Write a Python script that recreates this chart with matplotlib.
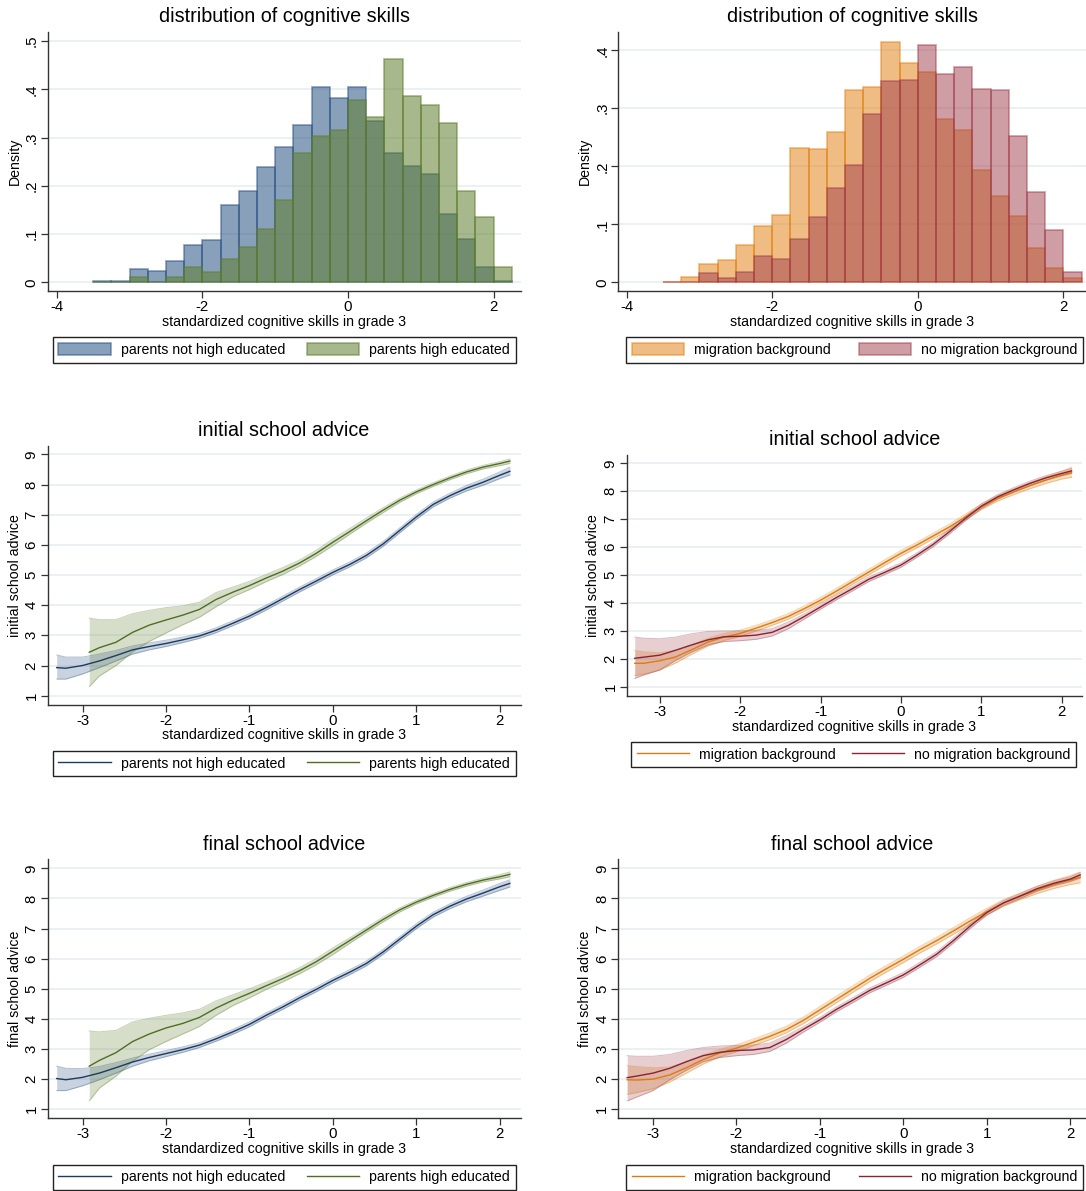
import numpy as np
import matplotlib.pyplot as plt
from matplotlib.ticker import FuncFormatter

plt.rcParams['font.family'] = ['Liberation Sans', 'DejaVu Sans']
plt.rcParams['axes.unicode_minus'] = False

##########################################################################
# histogram data (bin width 0.25, left edges from -3.5)
bin_left = np.arange(-3.5, 2.0001, 0.25)
dens_not_high = [0.002, 0.003, 0.027, 0.024, 0.045, 0.077, 0.087, 0.161, 0.189, 0.238, 0.280, 0.325,
                 0.404, 0.381, 0.405, 0.334, 0.267, 0.240, 0.225, 0.141, 0.089, 0.031, 0.003]
dens_high = [0.000, 0.001, 0.010, 0.001, 0.010, 0.032, 0.022, 0.048, 0.073, 0.110, 0.170, 0.267,
             0.303, 0.315, 0.377, 0.342, 0.463, 0.385, 0.368, 0.331, 0.190, 0.136, 0.031]
dens_migr = [0.001, 0.009, 0.032, 0.038, 0.064, 0.097, 0.116, 0.232, 0.229, 0.259, 0.331, 0.337,
             0.415, 0.378, 0.362, 0.281, 0.262, 0.194, 0.148, 0.114, 0.059, 0.024, 0.008]
dens_no_migr = [0.001, 0.001, 0.016, 0.007, 0.018, 0.046, 0.041, 0.074, 0.112, 0.162, 0.202, 0.290,
                0.347, 0.348, 0.409, 0.359, 0.372, 0.334, 0.332, 0.253, 0.155, 0.090, 0.017]

##########################################################################
# smoothed school advice with confidence bands
x_grid = [-3.31, -3.2, -3.0, -2.8, -2.6, -2.4, -2.2, -2.0, -1.8, -1.6, -1.4, -1.2, -1.0, -0.8, -0.6,
          -0.4, -0.2, 0.0, 0.2, 0.4, 0.6, 0.8, 1.0, 1.2, 1.4, 1.6, 1.8, 2.0, 2.12]
x_high = [-2.92, -2.8, -2.6, -2.4, -2.2, -2.0, -1.8, -1.6, -1.4, -1.2, -1.0, -0.8, -0.6, -0.4, -0.2,
          0.0, 0.2, 0.4, 0.6, 0.8, 1.0, 1.2, 1.4, 1.6, 1.8, 2.0, 2.12]

# initial advice, parents not high educated
init_nh = [1.93, 1.91, 2.00, 2.15, 2.33, 2.52, 2.63, 2.73, 2.85, 2.98, 3.17, 3.40, 3.64, 3.92, 4.22,
           4.52, 4.80, 5.09, 5.35, 5.65, 6.03, 6.48, 6.93, 7.34, 7.63, 7.88, 8.08, 8.31, 8.44]
init_nh_lo = [1.55, 1.55, 1.72, 1.93, 2.15, 2.38, 2.52, 2.63, 2.76, 2.90, 3.09, 3.32, 3.56, 3.84, 4.14,
              4.44, 4.72, 5.01, 5.27, 5.57, 5.95, 6.40, 6.85, 7.26, 7.55, 7.79, 7.98, 8.20, 8.32]
init_nh_hi = [2.35, 2.28, 2.28, 2.38, 2.50, 2.65, 2.75, 2.84, 2.94, 3.06, 3.25, 3.48, 3.72, 4.00, 4.30,
              4.60, 4.88, 5.17, 5.43, 5.73, 6.11, 6.56, 7.01, 7.42, 7.71, 7.97, 8.18, 8.42, 8.58]
# initial advice, parents high educated
init_h = [2.44, 2.59, 2.77, 3.10, 3.34, 3.51, 3.67, 3.86, 4.19, 4.43, 4.65, 4.90, 5.13, 5.40, 5.72,
          6.09, 6.44, 6.80, 7.15, 7.48, 7.76, 8.00, 8.22, 8.42, 8.58, 8.70, 8.78]
init_h_lo = [1.30, 1.65, 2.00, 2.45, 2.80, 3.08, 3.35, 3.60, 3.95, 4.28, 4.52, 4.78, 5.02, 5.30, 5.62,
             5.98, 6.35, 6.72, 7.07, 7.41, 7.70, 7.94, 8.16, 8.36, 8.52, 8.63, 8.70]
init_h_hi = [3.57, 3.52, 3.52, 3.72, 3.83, 3.92, 3.98, 4.10, 4.42, 4.60, 4.79, 5.02, 5.25, 5.50, 5.82,
             6.20, 6.54, 6.89, 7.23, 7.55, 7.82, 8.06, 8.28, 8.48, 8.64, 8.76, 8.85]

# final advice, parents not high educated
final_nh = [2.02, 1.98, 2.06, 2.20, 2.38, 2.57, 2.72, 2.85, 2.98, 3.13, 3.34, 3.57, 3.82, 4.12, 4.40,
            4.70, 4.98, 5.28, 5.55, 5.84, 6.22, 6.65, 7.08, 7.46, 7.74, 7.98, 8.18, 8.39, 8.50]
final_nh_lo = [1.62, 1.62, 1.78, 1.98, 2.20, 2.43, 2.61, 2.75, 2.89, 3.05, 3.26, 3.49, 3.74, 4.04, 4.32,
               4.62, 4.90, 5.20, 5.47, 5.76, 6.14, 6.57, 7.00, 7.38, 7.66, 7.89, 8.08, 8.27, 8.38]
final_nh_hi = [2.43, 2.36, 2.35, 2.42, 2.55, 2.70, 2.83, 2.95, 3.07, 3.21, 3.42, 3.65, 3.90, 4.20, 4.48,
               4.78, 5.06, 5.36, 5.63, 5.92, 6.30, 6.73, 7.16, 7.54, 7.82, 8.07, 8.28, 8.50, 8.62]
# final advice, parents high educated
final_h = [2.43, 2.62, 2.88, 3.25, 3.50, 3.70, 3.85, 4.05, 4.36, 4.62, 4.85, 5.10, 5.34, 5.60, 5.90,
           6.25, 6.60, 6.95, 7.30, 7.62, 7.88, 8.10, 8.30, 8.47, 8.61, 8.72, 8.80]
final_h_lo = [1.28, 1.70, 2.10, 2.60, 2.98, 3.25, 3.50, 3.75, 4.12, 4.44, 4.70, 4.98, 5.23, 5.50, 5.80,
              6.14, 6.51, 6.87, 7.22, 7.55, 7.82, 8.04, 8.24, 8.41, 8.55, 8.65, 8.72]
final_h_hi = [3.60, 3.57, 3.62, 3.90, 4.02, 4.12, 4.20, 4.32, 4.60, 4.80, 5.00, 5.22, 5.45, 5.70, 6.00,
              6.36, 6.69, 7.03, 7.38, 7.69, 7.94, 8.16, 8.36, 8.53, 8.67, 8.79, 8.88]

# initial advice, migration background
init_m = [1.84, 1.84, 1.93, 2.07, 2.33, 2.60, 2.78, 2.91, 3.10, 3.30, 3.52, 3.80, 4.10, 4.43, 4.77,
          5.11, 5.45, 5.78, 6.08, 6.40, 6.72, 7.08, 7.45, 7.75, 7.98, 8.20, 8.40, 8.58, 8.67]
init_m_lo = [1.40, 1.45, 1.60, 1.85, 2.17, 2.46, 2.66, 2.80, 3.00, 3.20, 3.42, 3.70, 4.00, 4.33, 4.67,
             5.01, 5.35, 5.68, 5.98, 6.30, 6.62, 6.98, 7.35, 7.65, 7.88, 8.09, 8.28, 8.44, 8.50]
init_m_hi = [2.30, 2.25, 2.22, 2.30, 2.50, 2.74, 2.91, 3.03, 3.20, 3.40, 3.62, 3.90, 4.20, 4.53, 4.87,
             5.21, 5.55, 5.88, 6.18, 6.50, 6.82, 7.18, 7.55, 7.85, 8.08, 8.31, 8.52, 8.72, 8.86]
# initial advice, no migration background
init_nm = [2.02, 2.06, 2.13, 2.31, 2.50, 2.68, 2.79, 2.81, 2.85, 2.95, 3.20, 3.52, 3.86, 4.20, 4.52,
           4.85, 5.10, 5.36, 5.72, 6.10, 6.55, 7.03, 7.47, 7.80, 8.05, 8.28, 8.48, 8.64, 8.73]
init_nm_lo = [1.30, 1.42, 1.60, 1.95, 2.25, 2.50, 2.62, 2.65, 2.70, 2.82, 3.08, 3.43, 3.78, 4.12, 4.44,
              4.77, 5.02, 5.28, 5.64, 6.02, 6.47, 6.95, 7.39, 7.72, 7.97, 8.20, 8.40, 8.56, 8.64]
init_nm_hi = [2.78, 2.74, 2.72, 2.78, 2.90, 2.98, 3.00, 3.00, 3.02, 3.08, 3.32, 3.61, 3.94, 4.28, 4.60,
              4.93, 5.18, 5.44, 5.80, 6.18, 6.63, 7.11, 7.55, 7.88, 8.13, 8.36, 8.56, 8.72, 8.82]

# final advice, migration background
final_m = [1.98, 1.97, 2.00, 2.14, 2.38, 2.65, 2.87, 3.03, 3.22, 3.42, 3.65, 3.95, 4.30, 4.65, 5.00,
           5.35, 5.67, 5.98, 6.30, 6.60, 6.92, 7.25, 7.56, 7.85, 8.07, 8.28, 8.46, 8.61, 8.70]
final_m_lo = [1.50, 1.55, 1.68, 1.90, 2.20, 2.50, 2.74, 2.91, 3.11, 3.31, 3.54, 3.84, 4.19, 4.54, 4.89,
              5.24, 5.56, 5.87, 6.19, 6.49, 6.81, 7.14, 7.45, 7.74, 7.96, 8.16, 8.33, 8.46, 8.52]
final_m_hi = [2.45, 2.42, 2.38, 2.40, 2.58, 2.80, 2.99, 3.14, 3.33, 3.53, 3.76, 4.06, 4.41, 4.76, 5.11,
              5.46, 5.78, 6.09, 6.41, 6.71, 7.03, 7.36, 7.67, 7.96, 8.18, 8.40, 8.60, 8.76, 8.88]
# final advice, no migration background
final_nm = [2.05, 2.10, 2.20, 2.36, 2.58, 2.78, 2.89, 2.95, 2.97, 3.05, 3.32, 3.65, 3.97, 4.32, 4.63,
            4.95, 5.20, 5.46, 5.80, 6.15, 6.60, 7.08, 7.53, 7.85, 8.08, 8.32, 8.50, 8.64, 8.78]
final_nm_lo = [1.28, 1.40, 1.62, 1.98, 2.30, 2.58, 2.72, 2.78, 2.82, 2.92, 3.20, 3.56, 3.89, 4.24, 4.55,
               4.87, 5.12, 5.38, 5.72, 6.07, 6.52, 7.00, 7.45, 7.77, 8.00, 8.24, 8.42, 8.56, 8.68]
final_nm_hi = [2.78, 2.76, 2.76, 2.82, 2.95, 3.05, 3.10, 3.12, 3.13, 3.20, 3.45, 3.74, 4.05, 4.40, 4.71,
               5.03, 5.28, 5.54, 5.88, 6.23, 6.68, 7.16, 7.61, 7.93, 8.16, 8.40, 8.58, 8.72, 8.86]

##########################################################################
W, H = 1086, 1191
c_blue = (40/255, 82/255, 132/255)
c_green = (95/255, 126/255, 46/255)
c_orange = (225/255, 125/255, 10/255)
c_red = (160/255, 60/255, 75/255)
line_blue = '#1e3a60'
line_green = '#4f6e22'
line_orange = '#e07a10'
line_red = '#8a2335'
grid_col = '#e6eef0'
axis_col = '#333333'
FS = 10.2
TICK_FS = 10.8
TITLE_FS = 14.2

fig = plt.figure(figsize=(W / 100, H / 100), dpi=100)


def px_axes(l, t, r, b):
    return fig.add_axes([l / W, 1 - b / H, (r - l) / W, (b - t) / H])


def style(ax):
    for s in ['top', 'right']:
        ax.spines[s].set_visible(False)
    for s in ['left', 'bottom']:
        ax.spines[s].set_color(axis_col)
        ax.spines[s].set_linewidth(1.0)
    ax.tick_params(direction='out', length=5, width=0.9, color=axis_col, labelsize=TICK_FS, pad=1.5)
    ax.yaxis.grid(True, color=grid_col, linewidth=1.1)
    ax.set_axisbelow(True)
    plt.setp(ax.get_yticklabels(), rotation=90, va='center')


def put_legend(ax, handles, labels, l, t, r, b):
    leg = ax.legend(handles, labels, loc='center', ncol=2, mode='expand',
                    bbox_to_anchor=(l / W, 1 - b / H, (r - l) / W, (b - t) / H),
                    bbox_transform=fig.transFigure, fontsize=FS, frameon=True, fancybox=False,
                    framealpha=1, edgecolor='#222222', borderaxespad=0, borderpad=0.4,
                    handlelength=3.7, handleheight=0.95, handletextpad=0.7, columnspacing=1.0)
    leg.get_frame().set_linewidth(1.0)


def dens_fmt(v, pos):
    if abs(v) < 1e-9:
        return '0'
    return ('%.1f' % v).lstrip('0')


def hist_panel(rect, first, second, c1, c2, alpha, labels, ylim, yticks, xlim, ylab_x, leg_rect):
    ax = px_axes(*rect)
    ax.bar(bin_left, first, width=0.25, align='edge', color=c1, alpha=alpha,
           edgecolor=c1, linewidth=1.2)
    ax.bar(bin_left, second, width=0.25, align='edge', color=c2, alpha=alpha,
           edgecolor=c2, linewidth=1.2)
    ax.set_xlim(*xlim)
    ax.set_ylim(*ylim)
    ax.set_yticks(yticks)
    ax.set_xticks([-4, -2, 0, 2])
    ax.yaxis.set_major_formatter(FuncFormatter(dens_fmt))
    style(ax)
    l, t, r, b = rect
    fig.text(ylab_x / W, 1 - (t + b) / 2 / H, 'Density', rotation=90, ha='center', va='center', fontsize=FS)
    fig.text((l + r) / 2 / W, 1 - 16.7 / H, 'distribution of cognitive skills', ha='center', va='center', fontsize=TITLE_FS)
    fig.text((l + r) / 2 / W, 1 - 322 / H, 'standardized cognitive skills in grade 3', ha='center', va='center', fontsize=FS)
    h1 = plt.Rectangle((0, 0), 1, 1, facecolor=c1, alpha=alpha, edgecolor=c1, linewidth=1.2)
    h2 = plt.Rectangle((0, 0), 1, 1, facecolor=c2, alpha=alpha, edgecolor=c2, linewidth=1.2)
    put_legend(ax, [h1, h2], labels, *leg_rect)
    return ax


def line_panel(rect, series, labels, title, title_y, ylabel, ylab_x, xlab_y, xlim, ylim, leg_rect):
    ax = px_axes(*rect)
    handles = []
    for xs, ys, lo, hi, band_c, line_c in series:
        ax.fill_between(xs, lo, hi, color=band_c, alpha=0.25, linewidth=0)
        ax.plot(xs, lo, color=band_c, alpha=0.35, linewidth=0.7)
        ax.plot(xs, hi, color=band_c, alpha=0.35, linewidth=0.7)
    for xs, ys, lo, hi, band_c, line_c in series:
        hnd, = ax.plot(xs, ys, color=line_c, linewidth=1.0)
        handles.append(hnd)
    ax.set_xlim(*xlim)
    ax.set_ylim(*ylim)
    ax.set_yticks(range(1, 10))
    ax.set_xticks([-3, -2, -1, 0, 1, 2])
    style(ax)
    l, t, r, b = rect
    fig.text(ylab_x / W, 1 - (t + b) / 2 / H, ylabel, rotation=90, ha='center', va='center', fontsize=FS)
    fig.text((l + r) / 2 / W, 1 - title_y / H, title, ha='center', va='center', fontsize=TITLE_FS)
    fig.text((l + r) / 2 / W, 1 - xlab_y / H, 'standardized cognitive skills in grade 3', ha='center', va='center', fontsize=FS)
    put_legend(ax, handles, labels, *leg_rect)
    return ax


edu_labels = ['parents not high educated', 'parents high educated']
mig_labels = ['migration background', 'no migration background']

# top row: distributions
hist_panel((47.5, 32.3, 520.7, 291), dens_not_high, dens_high, c_blue, c_green, 0.55, edu_labels,
           (-0.018, 0.518), [0, 0.1, 0.2, 0.3, 0.4, 0.5], (-4.128, 2.372), 14.5, (52.7, 337, 515.5, 363))
hist_panel((618.4, 32.3, 1086, 291), dens_migr, dens_no_migr, c_orange, c_red, 0.5, mig_labels,
           (-0.015, 0.431), [0, 0.1, 0.2, 0.3, 0.4], (-4.114, 2.31), 584.7, (626, 337, 1083, 363))

# middle row: initial school advice
line_panel((47.5, 446, 520.7, 704.7),
           [(x_grid, init_nh, init_nh_lo, init_nh_hi, c_blue, line_blue),
            (x_high, init_h, init_h_lo, init_h_hi, c_green, line_green)],
           edu_labels, 'initial school advice', 430.7, 'initial school advice', 15.5, 735.5,
           (-3.42, 2.25), (0.70, 9.28), (52.7, 750.7, 515.5, 776.7))
line_panel((626.7, 455, 1082, 695.7),
           [(x_grid, init_m, init_m_lo, init_m_hi, c_orange, line_orange),
            (x_grid, init_nm, init_nm_lo, init_nm_hi, c_red, line_red)],
           mig_labels, 'initial school advice', 439.3, 'initial school advice', 593, 726.5,
           (-3.41, 2.25), (0.68, 9.30), (631, 741.7, 1076, 767.7))

# bottom row: final school advice
line_panel((47.5, 859.3, 520.7, 1117.7),
           [(x_grid, final_nh, final_nh_lo, final_nh_hi, c_blue, line_blue),
            (x_high, final_h, final_h_lo, final_h_hi, c_green, line_green)],
           edu_labels, 'final school advice', 845, 'final school advice', 15.5, 1148.5,
           (-3.42, 2.25), (0.72, 9.30), (52.7, 1165, 515.5, 1190))
line_panel((618.4, 859.3, 1086, 1117.7),
           [(x_grid, final_m, final_m_lo, final_m_hi, c_orange, line_orange),
            (x_grid, final_nm, final_nm_lo, final_nm_hi, c_red, line_red)],
           mig_labels, 'final school advice', 845, 'final school advice', 584.7, 1148.5,
           (-3.415, 2.19), (0.72, 9.30), (626, 1165, 1083, 1190))

plt.savefig('out.png', dpi=100)
